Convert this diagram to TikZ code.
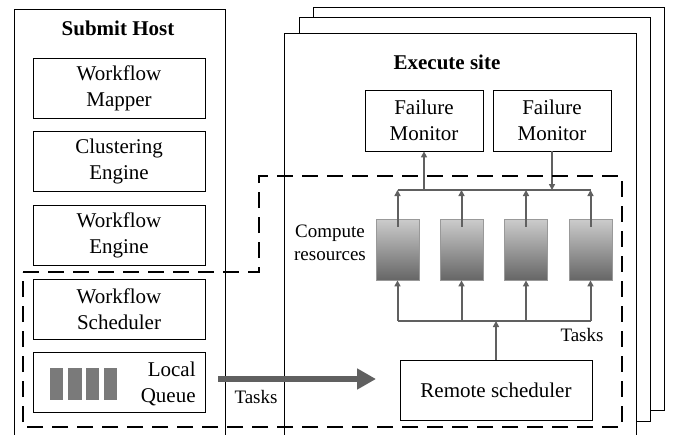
\documentclass[tikz,border=0pt]{standalone}
\usepackage{fontspec}
\setmainfont{Liberation Serif}
\usetikzlibrary{arrows.meta}
\definecolor{arr}{HTML}{606060}
\definecolor{qbar}{HTML}{7A7A7A}
\begin{document}
\begin{tikzpicture}[x=1pt,y=-1pt,
  box/.style={draw=black,line width=0.8pt,fill=white,minimum width=172pt,minimum height=60pt,
    align=center,inner sep=0pt,font=\fontsize{21}{26}\selectfont},
  fmbox/.style={box,minimum width=118pt,minimum height=61pt},
  res/.style={draw=gray!80,line width=0.8pt,top color=black!20,bottom color=black!60,
    minimum width=43pt,minimum height=61pt,inner sep=0pt},
  garr/.style={draw=arr,line width=2pt,-{Triangle[length=6pt,width=6pt]}},
  gline/.style={draw=arr,line width=2pt},
  lbl/.style={font=\fontsize{19}{23}\selectfont,align=center,inner sep=0pt},
  ttl/.style={font=\fontsize{21}{26}\selectfont\bfseries,inner sep=0pt},
  dsh/.style={draw=black,line width=2.6pt,dash pattern=on 16pt off 9pt}]
\useasboundingbox (0,0) rectangle (677,434);
\clip (0,0) rectangle (677,434);
% Submit host
\draw[line width=0.8pt] (14,9) rectangle (225,445);
\node[ttl] (sh) at (118,28) {Submit Host};
\node[box] (wm) at (119,88) {Workflow\\Mapper};
\node[box] (ce) at (119,161.5) {Clustering\\Engine};
\node[box] (we) at (119,235) {Workflow\\Engine};
\node[box] (ws) at (119,309) {Workflow\\Scheduler};
\node[box] (lq) at (119,382) {};
\node[box,draw=none,fill=none,minimum width=0pt,minimum height=0pt,anchor=east,align=right] (lqt) at (196,384) {Local\\Queue};
\foreach \a/\b in {50/63,68/82,86/99,104/117}{
  \fill[qbar] (\a,368) rectangle (\b,400);
}
% Execute sites (stack)
\draw[line width=0.8pt,fill=white] (313,7) rectangle (664,410);
\draw[line width=0.8pt,fill=white] (299,17) rectangle (650,421);
\draw[line width=0.8pt,fill=white] (284,33) rectangle (636,445);
\node[ttl] (es) at (447,62) {Execute site};
\node[fmbox] (fm1) at (424,120.5) {Failure\\Monitor};
\node[fmbox] (fm2) at (552,120.5) {Failure\\Monitor};
\node[res] (r1) at (397.5,249.5) {};
\node[res] (r2) at (461.5,249.5) {};
\node[res] (r3) at (526,249.5) {};
\node[res] (r4) at (590.5,249.5) {};
\node[lbl] (cr) at (330,243) {Compute\\resources};
\node[box,minimum width=192pt,minimum height=60pt] (rs) at (496,390) {Remote scheduler};
\node[lbl] (t1) at (582,335) {Tasks};
\node[lbl] (t2) at (256,397) {Tasks};
% upper bus
\coordinate (ub1) at (397.5,190);
\coordinate (ub4) at (590.5,190);
\draw[gline] (ub1) -- (ub4);
\foreach \r in {r1,r2,r3,r4}{
  \draw[garr] ([yshift=-8pt]\r.north) -- (\r.north |- ub1);
}
\draw[garr] (fm1.south |- ub1) -- (fm1.south);
\draw[garr] (fm2.south) -- (fm2.south |- ub1);
% lower bus
\coordinate (lb1) at (397.5,321);
\coordinate (lb4) at (590.5,321);
\draw[gline] (lb1) -- (lb4);
\foreach \r in {r1,r2,r3,r4}{
  \draw[garr] (\r.south |- lb1) -- (\r.south);
}
\draw[garr] (rs.north) -- (rs.north |- lb1);
% big arrow
\coordinate (ba) at (218,379);
\coordinate (bae) at (376,379);
\draw[draw=arr,line width=6pt,-{Triangle[length=19pt,width=20pt]}] (ba) -- (bae);
% dashed region
\draw[dsh] (23,272) -- (259,272) -- (259,176) -- (622,176) -- (622,427) -- (23,427) -- cycle;
\end{tikzpicture}
\end{document}
